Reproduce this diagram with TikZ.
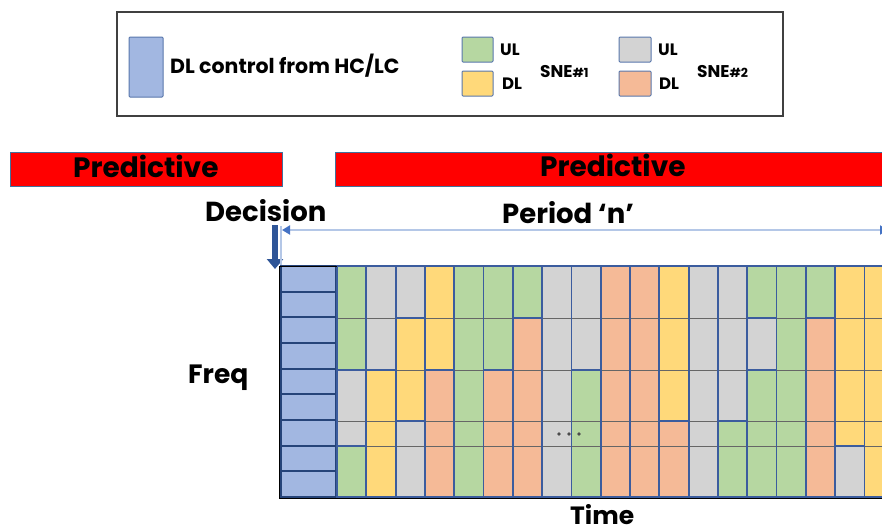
\documentclass[tikz,border=0pt]{standalone}
\usepackage{fontspec}
\setmainfont{Poppins}
\usetikzlibrary{arrows.meta}
\definecolor{ctlblue}{HTML}{A2B7E1}
\definecolor{edgeblue}{HTML}{2F5597}
\definecolor{cellblue}{HTML}{3B5C9E}
\definecolor{cg}{HTML}{B6D7A1}
\definecolor{ca}{HTML}{D3D3D3}
\definecolor{cy}{HTML}{FFD97A}
\definecolor{co}{HTML}{F5BA97}
\definecolor{periodline}{HTML}{B4C7E7}
\definecolor{periodtip}{HTML}{4472C4}
\definecolor{baredge}{HTML}{41719C}
\begin{document}
\begin{tikzpicture}[x=1pt,y=-1pt,
  lbl/.style={font=\bfseries, inner sep=0pt, text depth=0pt, anchor=base west},
  swatch/.style={draw=edgeblue!80, line width=1pt, rounded corners=1pt},
  bar/.style={fill=red, draw=baredge, line width=0.8pt},
  cell/.style={draw=cellblue, line width=1.8pt},
  ctl/.style={fill=ctlblue, draw=edgeblue!80!black, line width=2.2pt}]
\useasboundingbox (0,0) rectangle (882,530);
\clip (0,0) rectangle (882,530);

% ---------- legend ----------
\draw[black!75, line width=1.2pt] (117,12) rectangle (783,116);
\draw[swatch, fill=ctlblue] (129,37) rectangle (163,97);
\node[lbl] (ctltxt) at (170,73) {\fontsize{20.5}{22}\selectfont DL control from HC/LC};
\draw[swatch, fill=cg] (462,37) rectangle (493,62);
\draw[swatch, fill=cy] (462,71) rectangle (493,96);
\node[lbl] (ul1) at (500,55) {\fontsize{16.5}{18}\selectfont UL};
\node[lbl] (dl1) at (502,89) {\fontsize{16.5}{18}\selectfont DL};
\node[lbl] (sne1) at (540,77) {\fontsize{17}{18}\selectfont SNE{\fontsize{12.5}{13}\selectfont\#1}};
\draw[swatch, fill=ca] (619,37) rectangle (651,62);
\draw[swatch, fill=co] (619,71) rectangle (651,96);
\node[lbl] (ul2) at (658,55) {\fontsize{16.5}{18}\selectfont UL};
\node[lbl] (dl2) at (659,89) {\fontsize{16.5}{18}\selectfont DL};
\node[lbl] (sne2) at (697,77) {\fontsize{17}{18}\selectfont SNE{\fontsize{12.5}{13}\selectfont\#2}};

% ---------- predictive bars ----------
\draw[bar] (10,152) rectangle (282,186);
\draw[bar] (335,152) rectangle (890,186);
\node[lbl] (pred1) at (73,177) {\fontsize{28}{30}\selectfont Predictive};
\node[lbl] (pred2) at (540,176) {\fontsize{28}{30}\selectfont Predictive};

% ---------- decision and period ----------
\node[lbl] (dec) at (205,221) {\fontsize{27.5}{30}\selectfont Decision};
\node[lbl] (per) at (502,223) {\fontsize{27.5}{30}\selectfont Period ‘n’};
\coordinate (decA) at (275,225);
\coordinate (decB) at (275,269);
\draw[edgeblue, line width=6.5pt, -{Triangle[width=16pt,length=10pt]}] (decA) -- (decB);
\coordinate (perL) at (282,230);
\coordinate (perR) at (888,230);
\draw[periodline, line width=1.8pt] (281,226) -- (281,266);
\draw[periodline, line width=1.8pt,
  {Triangle[width=9pt,length=8pt,color=periodtip]}-{Triangle[width=9pt,length=8pt,color=periodtip]}]
  (perL) -- (perR);

% ---------- control column ----------
\foreach \i in {0,...,8}
  \draw[ctl] (281,{266+\i*25.67}) rectangle (336,{266+(\i+1)*25.67});

% ---------- resource grid ----------
\foreach \col/\runs in {
   1/{0/2/cg,2/4/ca,4/5/cg},
   2/{0/2/ca,2/5/cy},
   3/{0/1/ca,1/3/cy,3/5/ca},
   4/{0/2/cy,2/5/co},
   5/{0/5/cg},
   6/{0/2/cg,2/5/co},
   7/{0/1/cg,1/5/co},
   8/{0/5/ca},
   9/{0/2/ca,2/5/cg},
  10/{0/5/co},
  11/{0/5/co},
  12/{0/3/cy,3/5/co},
  13/{0/5/ca},
  14/{0/3/ca,3/5/cg},
  15/{0/1/cg,1/2/ca,2/5/cg},
  16/{0/5/cg},
  17/{0/1/cg,1/5/co},
  18/{0/4/cy,4/5/ca},
  19/{0/5/cy}} {
  \pgfmathsetmacro\xa{337+(\col-1)*29.3}
  \pgfmathsetmacro\xb{\xa+29.3}
  \foreach \s/\e/\clr in \runs {
    \pgfmathsetmacro\ya{{266,318,370,421,446,497}[\s]}
    \pgfmathsetmacro\yb{{266,318,370,421,446,497}[\e]}
    \fill[\clr] (\xa,\ya) rectangle (\xb,\yb);
  }
}
% row boundaries of the grid
\foreach \y in {318,370,421,446}
  \draw[black!60, line width=0.8pt] (337,\y) -- (882,\y);
% outlines of the allocations
\foreach \col/\runs in {
   1/{0/2,2/4,4/5},
   2/{0/2,2/5},
   3/{0/1,1/3,3/5},
   4/{0/2,2/5},
   5/{0/5},
   6/{0/2,2/5},
   7/{0/1,1/5},
   8/{0/5},
   9/{0/2,2/5},
  10/{0/5},
  11/{0/5},
  12/{0/3,3/5},
  13/{0/5},
  14/{0/3,3/5},
  15/{0/1,1/2,2/5},
  16/{0/5},
  17/{0/1,1/5},
  18/{0/4,4/5},
  19/{0/5}} {
  \pgfmathsetmacro\xa{337+(\col-1)*29.3}
  \pgfmathsetmacro\xb{\xa+29.3}
  \foreach \s/\e in \runs {
    \pgfmathsetmacro\ya{{266,318,370,421,446,497}[\s]}
    \pgfmathsetmacro\yb{{266,318,370,421,446,497}[\e]}
    \draw[cell] (\xa,\ya) rectangle (\xb,\yb);
  }
}
% frame of the grid
\draw[black, line width=0.9pt] (279.5,266) -- (279.5,498) -- (882,498);
\draw[black, line width=0.9pt] (279.5,266) -- (337,266);

% ellipsis in the middle of the grid
\foreach \x in {559,569,579}
  \fill[black!70] (\x,434) circle (1.8pt);

% ---------- axis labels ----------
\node[lbl] (freq) at (188,383) {\fontsize{26.5}{28}\selectfont Freq};
\node[lbl] (time) at (570,524) {\fontsize{25}{27}\selectfont Time};
\end{tikzpicture}
\end{document}
